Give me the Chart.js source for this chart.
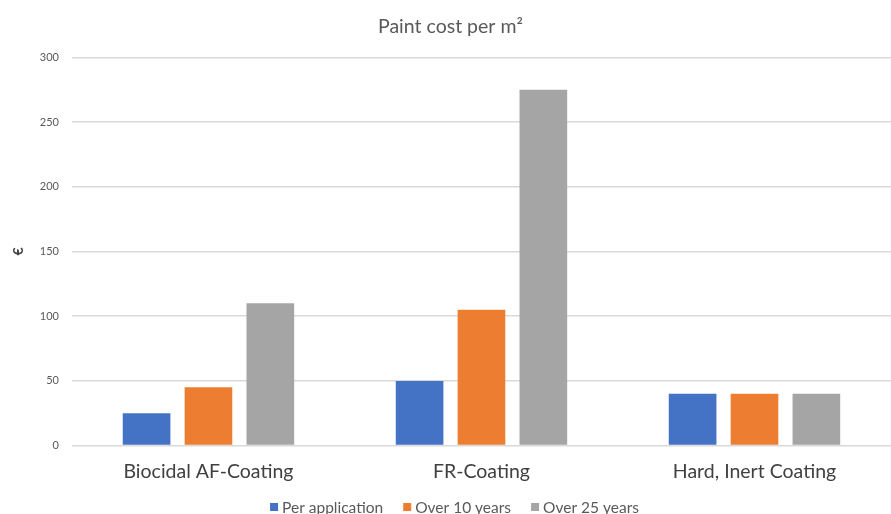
<!DOCTYPE html>
<html>
<head>
<meta charset="utf-8">
<script src="https://cdn.jsdelivr.net/npm/chart.js@4/dist/chart.umd.min.js"></script>
<style>
  html, body { margin: 0; padding: 0; background: #fff; overflow: hidden; }
  #wrap { width: 891px; height: 514px; }
</style>
</head>
<body>
<div id="wrap"><canvas id="c" width="891" height="514"></canvas></div>
<script>
// Paint cost per square metre, by coating type
const categories = ['Biocidal AF-Coating', 'FR-Coating', 'Hard, Inert Coating'];
const perApplication = [25, 50, 40];
const over10Years = [45, 105, 40];
const over25Years = [110, 275, 40];
const seriesNames = ['Per application', 'Over 10 years', 'Over 25 years'];
const seriesColors = ['#4472C4', '#ED7D31', '#A5A5A5'];
const yTicks = [0, 50, 100, 150, 200, 250, 300];

const FONT = 'Lato, "Open Sans", sans-serif';

// Legend row along the bottom edge: square swatch, label, wide gaps between entries
const bottomLegend = {
  id: 'bottomLegend',
  afterDraw(chart) {
    const ctx = chart.ctx;
    const box = 8, boxGap = 4, itemGap = 20, fontSize = 15.5;
    ctx.save();
    ctx.font = fontSize + 'px ' + FONT;
    ctx.textBaseline = 'middle';
    const items = chart.data.datasets.map(ds => ({
      text: ds.label, color: ds.backgroundColor, w: ctx.measureText(ds.label).width
    }));
    const total = items.reduce((s, it) => s + box + boxGap + it.w, 0) + itemGap * (items.length - 1);
    let x = (chart.width - total) / 2 + 9;
    const y = chart.height - 7;
    items.forEach(it => {
      ctx.fillStyle = it.color;
      ctx.fillRect(x, y - box / 2, box, box);
      x += box + boxGap;
      ctx.fillStyle = '#595959';
      ctx.fillText(it.text, x, y + 1);
      x += it.w + itemGap;
    });
    ctx.restore();
  }
};

new Chart(document.getElementById('c'), {
  type: 'bar',
  data: {
    labels: categories,
    datasets: [perApplication, over10Years, over25Years].map((vals, i) => ({
      label: seriesNames[i],
      data: vals,
      backgroundColor: seriesColors[i],
      borderWidth: 0,
      categoryPercentage: 0.68,
      barPercentage: 0.77
    }))
  },
  plugins: [bottomLegend],
  options: {
    responsive: false,
    animation: false,
    layout: { padding: { left: 10, right: 0, top: 15, bottom: 25 } },
    plugins: {
      title: {
        display: true,
        text: 'Paint cost per m²',
        color: '#595959',
        font: { family: FONT, size: 19.5, weight: 'normal' },
        padding: { top: 0, bottom: 19 }
      },
      legend: { display: false },
      tooltip: { enabled: false }
    },
    scales: {
      x: {
        grid: { display: false },
        border: { display: false },
        ticks: {
          color: '#404040',
          font: { family: FONT, size: 19.5 },
          padding: 6
        }
      },
      y: {
        min: 0,
        max: 300,
        afterBuildTicks: (axis) => { axis.ticks = yTicks.map(v => ({ value: v })); },
        grid: { color: '#D9D9D9', lineWidth: 1.5, drawTicks: false },
        border: { display: false },
        ticks: {
          color: '#595959',
          font: { family: FONT, size: 11 },
          padding: 13
        },
        title: {
          display: true,
          text: '€',
          color: '#404040',
          font: { family: FONT, size: 14, weight: 'bold' },
          padding: 0
        }
      }
    }
  }
});
</script>
</body>
</html>
